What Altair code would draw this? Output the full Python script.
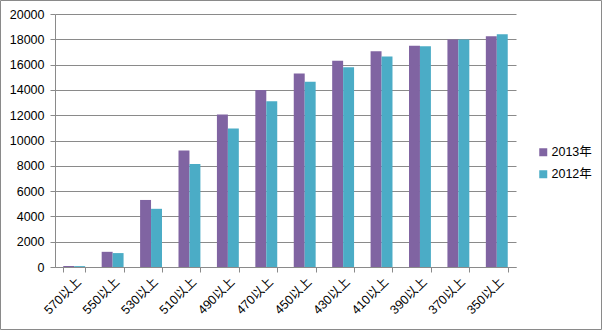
import altair as alt
import pandas as pd

categories = ["570以上", "550以上", "530以上", "510以上", "490以上", "470以上",
              "450以上", "430以上", "410以上", "390以上", "370以上", "350以上"]
series = ["2013年", "2012年"]
values_2013 = [80, 1200, 5300, 9200, 12050, 14000, 15300, 16300, 17050, 17500, 17980, 18250]
values_2012 = [70, 1100, 4600, 8150, 10950, 13100, 14650, 15800, 16650, 17450, 17980, 18400]
colors = ["#8064A2", "#4BACC6"]

rows = []
for c, a, b in zip(categories, values_2013, values_2012):
    rows.append({"cat": c, "series": series[0], "value": a})
    rows.append({"cat": c, "series": series[1], "value": b})
df = pd.DataFrame(rows)

FONT = "Liberation Sans, Noto Sans CJK SC, sans-serif"
GRID = "#8a8a8a"

bars = alt.Chart(df).mark_bar().encode(
    x=alt.X("cat:N", sort=categories, title=None,
            scale=alt.Scale(paddingInner=0.43, paddingOuter=0.215),
            axis=alt.Axis(labelAngle=-45, labelFontSize=12.5, labelColor="#000000",
                          labelFont=FONT, tickBand="extent", tickSize=5,
                          tickColor=GRID, domainColor=GRID, labelPadding=3,
                          labelAlign="right", labelBaseline="top")),
    xOffset=alt.XOffset("series:N", sort=series),
    y=alt.Y("value:Q", title=None,
            scale=alt.Scale(domain=[0, 20000], nice=False),
            axis=alt.Axis(values=list(range(0, 20001, 2000)), grid=True, format="d",
                          gridColor=GRID, domainColor=GRID, tickColor=GRID,
                          tickSize=5, labelPadding=6, labelFontSize=12.5,
                          labelColor="#000000", labelFont=FONT)),
    color=alt.Color("series:N", sort=series,
                    scale=alt.Scale(domain=series, range=colors),
                    legend=alt.Legend(title=None, orient="none", legendX=482, legendY=132,
                                      symbolType="square", symbolSize=64,
                                      symbolStrokeWidth=0, labelFontSize=12.5,
                                      labelFont=FONT, labelColor="#000000",
                                      rowPadding=9, labelOffset=2)),
)

border = alt.Chart(pd.DataFrame({"a": [0]})).mark_rect(
    filled=False, stroke="#8a8a8a", strokeWidth=1
).encode(
    x=alt.value(-54.5), x2=alt.value(546.5),
    y=alt.value(-13.5), y2=alt.value(315.5)
)

chart = alt.layer(bars, border).properties(
    width=461, height=253,
    padding={"left": 55, "top": 14, "right": 87, "bottom": 64},
    autosize=alt.AutoSizeParams(type="none"),
    background="#ffffff",
).configure_view(stroke=None)

chart.save("out.html", embed_options={"renderer": "svg", "actions": False})
